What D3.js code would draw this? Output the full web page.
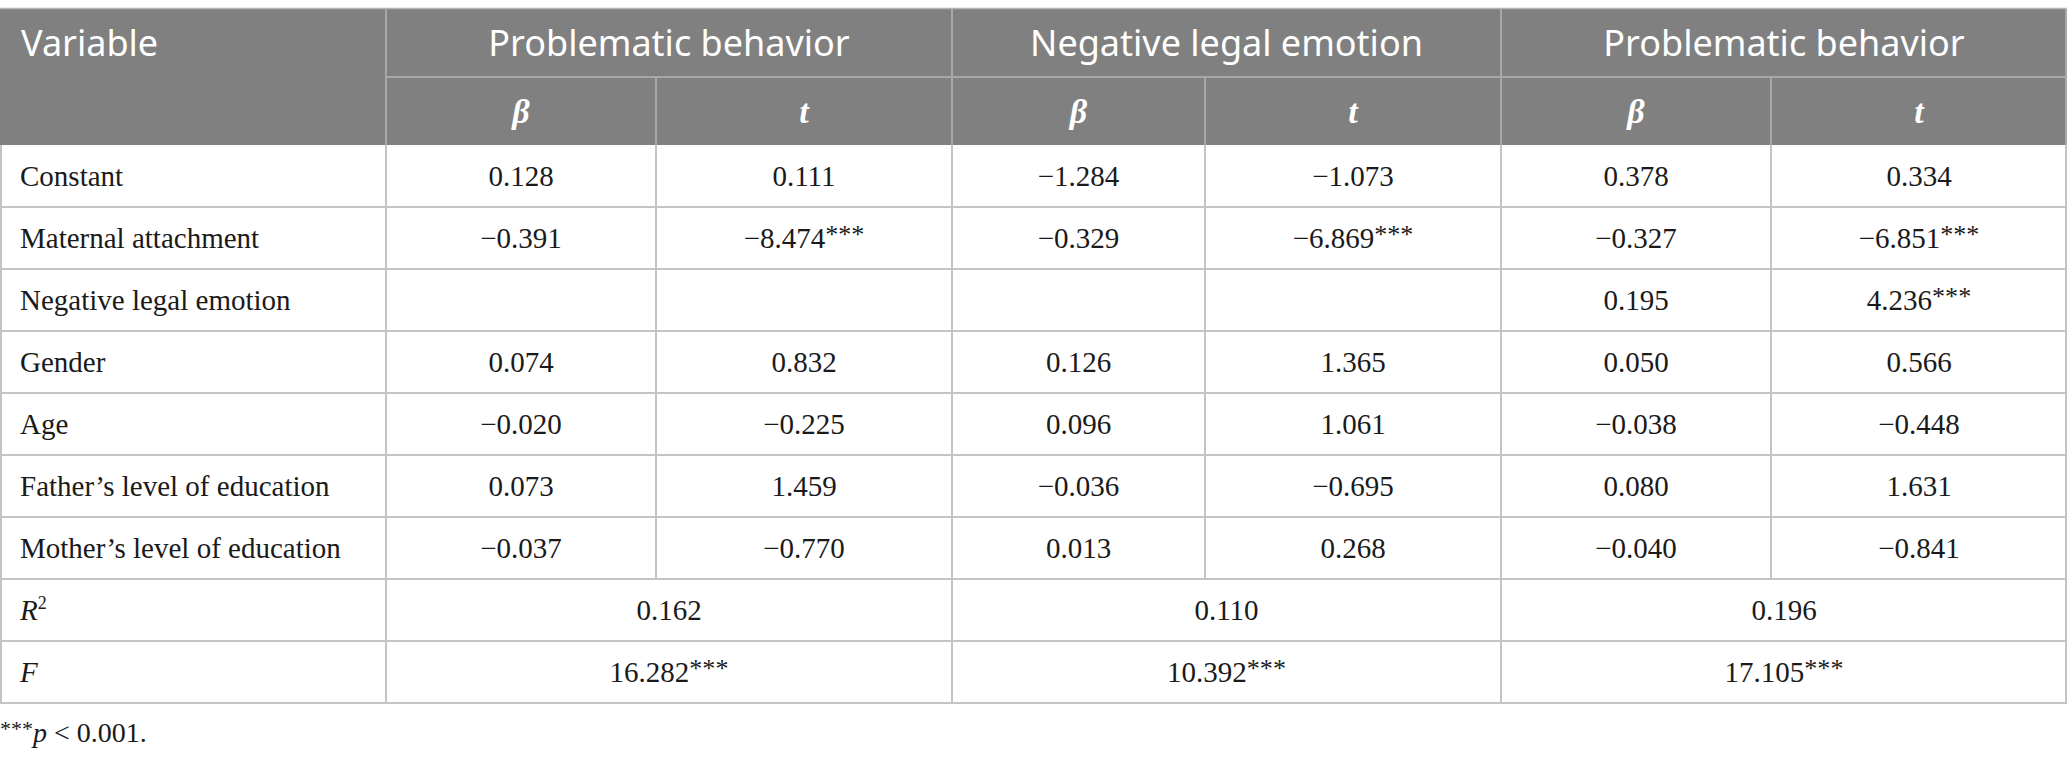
<!DOCTYPE html>
<html>
<head>
<meta charset="utf-8">
<script src="https://cdn.jsdelivr.net/npm/d3@7"></script>
<style>
  html, body { margin: 0; padding: 0; background: #fff; }
</style>
</head>
<body>
<div id="container"></div>
<script>
const width = 2067;
const height = 761;

// data
const groups = ["Problematic behavior", "Negative legal emotion", "Problematic behavior"];
const subHeads = ["β", "t"];
const rowLabels = ["Constant", "Maternal attachment", "Negative legal emotion", "Gender", "Age",
  "Father\u2019s level of education", "Mother\u2019s level of education"];
const m1Beta = ["0.128", "\u22120.391", "", "0.074", "\u22120.020", "0.073", "\u22120.037"];
const m1T = ["0.111", "\u22128.474***", "", "0.832", "\u22120.225", "1.459", "\u22120.770"];
const m2Beta = ["\u22121.284", "\u22120.329", "", "0.126", "0.096", "\u22120.036", "0.013"];
const m2T = ["\u22121.073", "\u22126.869***", "", "1.365", "1.061", "\u22120.695", "0.268"];
const m3Beta = ["0.378", "\u22120.327", "0.195", "0.050", "\u22120.038", "0.080", "\u22120.040"];
const m3T = ["0.334", "\u22126.851***", "4.236***", "0.566", "\u22120.448", "1.631", "\u22120.841"];
const rSquared = ["0.162", "0.110", "0.196"];
const fValues = ["16.282***", "10.392***", "17.105***"];
const footnote = "p < 0.001.";

// layout
const colEdges = [0, 386, 656, 952, 1205, 1501, 1771, 2067];
const headTop = 9, headMid = 77, headBottom = 145, bodyBottom = 703;
const headBg = "#808080";
const gridColor = "#c4c4c4";
const headLine = "#a8a8a8";
const sans = "'Noto Sans', 'Open Sans', sans-serif";
const serif = "'Liberation Serif', 'Times New Roman', serif";
const bodySize = 29;
const headSize = 36;

const allRows = rowLabels.concat(["R2", "F"]);
const y = d3.scaleBand().domain(d3.range(allRows.length)).range([headBottom, bodyBottom]);
const colCenter = i => (colEdges[i] + colEdges[i + 1]) / 2;

const svg = d3.select("#container").append("svg")
  .attr("width", width).attr("height", height)
  .style("display", "block");

// header background
svg.append("rect")
  .attr("x", 0).attr("y", headTop)
  .attr("width", width).attr("height", headBottom - headTop)
  .attr("fill", headBg);
svg.append("line")
  .attr("x1", 0).attr("x2", width).attr("y1", headTop - 0.5).attr("y2", headTop - 0.5)
  .attr("stroke", "#b4b4b4").attr("stroke-width", 1.5);

// header lines
svg.append("line")
  .attr("x1", colEdges[1]).attr("x2", width).attr("y1", headMid).attr("y2", headMid)
  .attr("stroke", headLine).attr("stroke-width", 2);
[1, 3, 5].forEach(i => {
  svg.append("line")
    .attr("x1", colEdges[i]).attr("x2", colEdges[i])
    .attr("y1", headTop).attr("y2", headBottom)
    .attr("stroke", headLine).attr("stroke-width", 2);
});
[2, 4, 6].forEach(i => {
  svg.append("line")
    .attr("x1", colEdges[i]).attr("x2", colEdges[i])
    .attr("y1", headMid).attr("y2", headBottom)
    .attr("stroke", headLine).attr("stroke-width", 2);
});
svg.append("line")
  .attr("x1", colEdges[7] - 1).attr("x2", colEdges[7] - 1)
  .attr("y1", headTop).attr("y2", headBottom)
  .attr("stroke", headLine).attr("stroke-width", 2);

// header text
svg.append("text")
  .attr("x", 21).attr("y", (headTop + headMid) / 2 + 13)
  .attr("fill", "#fff").attr("font-family", sans).attr("font-size", headSize)
  .text("Variable");

svg.selectAll("text.group")
  .data(groups)
  .enter().append("text")
  .attr("class", "group")
  .attr("x", (d, i) => (colEdges[1 + i * 2] + colEdges[3 + i * 2]) / 2)
  .attr("y", (headTop + headMid) / 2 + 13)
  .attr("text-anchor", "middle")
  .attr("fill", "#fff").attr("font-family", sans).attr("font-size", headSize)
  .text(d => d);

svg.selectAll("text.sub")
  .data(d3.range(6))
  .enter().append("text")
  .attr("class", "sub")
  .attr("x", i => colCenter(i + 1))
  .attr("y", (headMid + headBottom) / 2 + 12)
  .attr("text-anchor", "middle")
  .attr("fill", "#fff").attr("font-family", serif)
  .attr("font-style", "italic").attr("font-weight", "bold").attr("font-size", 34)
  .text(i => subHeads[i % 2]);

// body grid
const gridLines = svg.append("g").attr("stroke", gridColor).attr("stroke-width", 2);
d3.range(1, allRows.length + 1).forEach(i => {
  const yy = i < allRows.length ? y(i) : bodyBottom;
  gridLines.append("line")
    .attr("x1", 0).attr("x2", width).attr("y1", yy).attr("y2", yy);
});
allRows.forEach((r, i) => {
  const edges = i < rowLabels.length ? [0, 1, 2, 3, 4, 5, 6, 7] : [0, 1, 3, 5, 7];
  edges.forEach(e => {
    const xx = e === 0 ? 1 : (e === 7 ? width - 1 : colEdges[e]);
    gridLines.append("line")
      .attr("x1", xx).attr("x2", xx)
      .attr("y1", y(i)).attr("y2", y(i) + y.bandwidth());
  });
});

// body text
const bodyText = svg.append("g")
  .attr("font-family", serif).attr("font-size", bodySize).attr("fill", "#1a1a1a");
const baseY = i => y(i) + y.bandwidth() / 2 + 10;

function withStars(sel, d) {
  const m = d.match(/^(.*?)(\*+)$/);
  if (m) {
    sel.append("tspan").text(m[1]);
    sel.append("tspan").attr("dy", -5).attr("font-size", bodySize * 0.9).text(m[2]);
  } else {
    sel.text(d);
  }
}

bodyText.selectAll("text.label")
  .data(rowLabels)
  .enter().append("text")
  .attr("class", "label")
  .attr("x", 20).attr("y", (d, i) => baseY(i))
  .text(d => d);

const cols = [m1Beta, m1T, m2Beta, m2T, m3Beta, m3T];
cols.forEach((col, c) => {
  bodyText.selectAll("text.c" + c)
    .data(col)
    .enter().append("text")
    .attr("class", "c" + c)
    .attr("x", colCenter(c + 1)).attr("y", (d, i) => baseY(i))
    .attr("text-anchor", "middle")
    .each(function (d) { withStars(d3.select(this), d); });
});

// R2 / F rows
const r2Row = rowLabels.length, fRow = rowLabels.length + 1;
const r2Label = bodyText.append("text").attr("x", 20).attr("y", baseY(r2Row));
r2Label.append("tspan").attr("font-style", "italic").text("R");
r2Label.append("tspan").attr("dy", -11).attr("font-size", 18).text("2");
bodyText.append("text").attr("x", 20).attr("y", baseY(fRow))
  .attr("font-style", "italic").text("F");

bodyText.selectAll("text.r2")
  .data(rSquared)
  .enter().append("text")
  .attr("class", "r2")
  .attr("x", (d, i) => (colEdges[1 + i * 2] + colEdges[3 + i * 2]) / 2)
  .attr("y", baseY(r2Row))
  .attr("text-anchor", "middle")
  .text(d => d);

bodyText.selectAll("text.fv")
  .data(fValues)
  .enter().append("text")
  .attr("class", "fv")
  .attr("x", (d, i) => (colEdges[1 + i * 2] + colEdges[3 + i * 2]) / 2)
  .attr("y", baseY(fRow))
  .attr("text-anchor", "middle")
  .each(function (d) { withStars(d3.select(this), d); });

// footnote
const fn = svg.append("text")
  .attr("x", 0).attr("y", 742)
  .attr("font-family", serif).attr("font-size", 28).attr("fill", "#1a1a1a");
fn.append("tspan").attr("dy", -6).attr("font-size", 22).text("***");
fn.append("tspan").attr("dy", 6).attr("font-style", "italic").text("p");
fn.append("tspan").text(" " + footnote.slice(2));
</script>
</body>
</html>
